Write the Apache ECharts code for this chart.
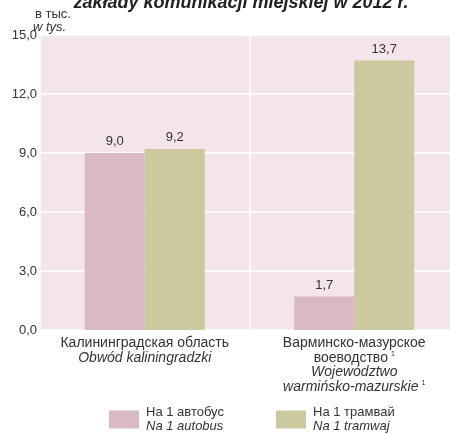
<!DOCTYPE html>
<html><head><meta charset="utf-8">
<script src="https://cdn.jsdelivr.net/npm/echarts@6/dist/echarts.min.js"></script>
<style>html,body{margin:0;padding:0;background:#fff}#c{width:450px;height:434px}</style>
</head><body><div id="c"></div>
<script>
const catRu = ['Калининградская область', 'Варминско-мазурское\nвоеводство'];
const catPl = ['Obwód kaliningradzki', 'Województwo\nwarmińsko-mazurskie'];
const catNote = [false, true];
const seriesNames = ['На 1 автобус|Na 1 autobus', 'На 1 трамвай|Na 1 tramwaj'];
const busValues = [9.0, 1.7];
const tramValues = [9.2, 13.7];
const yTicks = [0, 3, 6, 9, 12, 15];

const FONT = "'Liberation Sans', Arial, sans-serif";
const chart = echarts.init(document.getElementById('c'), null, {renderer: 'canvas'});
const fmt = v => v.toFixed(1).replace('.', ',');

function catLabel(v, i) {
  const idx = catRu.indexOf(v);
  const ru = catRu[idx].split('\n');
  const pl = catPl[idx].split('\n');
  const lines = [];
  ru.forEach((l, k) => lines.push('{ru|' + l + '}' + (catNote[idx] && k === ru.length - 1 ? '{sup|1}' : '')));
  pl.forEach((l, k) => lines.push('{pl|' + l + '}' + (catNote[idx] && k === pl.length - 1 ? '{sup|1}' : '')));
  return lines.join('\n');
}

const legendRich = {
  ru: {fontSize: 13, fontFamily: FONT, color: '#333', lineHeight: 14, padding: [0, 0, 0, 2]},
  pl: {fontSize: 13, fontFamily: FONT, fontStyle: 'italic', color: '#333', lineHeight: 14, padding: [0, 0, 0, 2]}
};

chart.setOption({
  animation: false,
  backgroundColor: '#fff',
  title: {
    text: 'zakłady komunikacji miejskiej w 2012 r.',
    left: 236, textAlign: 'center', top: -11,
    textStyle: {fontSize: 18, fontWeight: 'bold', fontStyle: 'italic', fontFamily: FONT, color: '#222'}
  },
  graphic: [
    {type: 'text', left: 35, top: 8, style: {text: 'в тыс.', fontSize: 13, fontFamily: FONT, fill: '#333'}},
    {type: 'text', left: 33, top: 21, style: {text: 'w tys.', fontSize: 13, fontStyle: 'italic', fontFamily: FONT, fill: '#333'}}
  ],
  grid: {left: 40, top: 35, width: 419, height: 295, show: true, backgroundColor: '#f3e5e9', borderWidth: 0, containLabel: false, outerBoundsMode: 'none'},
  xAxis: {
    type: 'category', data: catRu,
    axisLine: {show: false}, axisTick: {show: false},
    splitLine: {show: true, lineStyle: {color: '#ffffff', width: 1.5}},
    axisLabel: {
      margin: 6, interval: 0, formatter: catLabel,
      rich: {
        ru: {fontSize: 14, fontFamily: FONT, color: '#333', lineHeight: 14.5},
        pl: {fontSize: 14, fontFamily: FONT, fontStyle: 'italic', color: '#333', lineHeight: 14.5},
        sup: {fontSize: 7, fontFamily: FONT, color: '#333', verticalAlign: 'top', padding: [0, 0, 6, 3], lineHeight: 14.5}
      }
    }
  },
  yAxis: {
    type: 'value', min: 0, max: 15, interval: 3,
    axisLine: {show: false}, axisTick: {show: false},
    splitLine: {show: true, lineStyle: {color: '#ffffff', width: 1.5}},
    axisLabel: {margin: 3, fontSize: 13, fontFamily: FONT, color: '#333', formatter: v => yTicks.includes(v) ? fmt(v) : ''}
  },
  legend: [
    {data: [seriesNames[0]], left: 109, top: 406, padding: 0, itemWidth: 30, itemHeight: 18, itemGap: 0, icon: 'rect',
     formatter: n => '{ru|' + n.split('|')[0] + '}\n{pl|' + n.split('|')[1] + '}', textStyle: {rich: legendRich}},
    {data: [seriesNames[1]], left: 276, top: 406, padding: 0, itemWidth: 30, itemHeight: 18, itemGap: 0, icon: 'rect',
     formatter: n => '{ru|' + n.split('|')[0] + '}\n{pl|' + n.split('|')[1] + '}', textStyle: {rich: legendRich}}
  ],
  series: [
    {name: seriesNames[0], type: 'bar', data: busValues, barGap: '0%', barCategoryGap: '42.7%',
     itemStyle: {color: '#d9b9c3'},
     label: {show: true, position: 'top', distance: 5, formatter: p => fmt(p.value), fontSize: 13, fontFamily: FONT, color: '#333'}},
    {name: seriesNames[1], type: 'bar', data: tramValues, barGap: '0%', barCategoryGap: '42.7%',
     itemStyle: {color: '#cbc99d'},
     label: {show: true, position: 'top', distance: 5, formatter: p => fmt(p.value), fontSize: 13, fontFamily: FONT, color: '#333'}}
  ]
});
</script></body></html>
